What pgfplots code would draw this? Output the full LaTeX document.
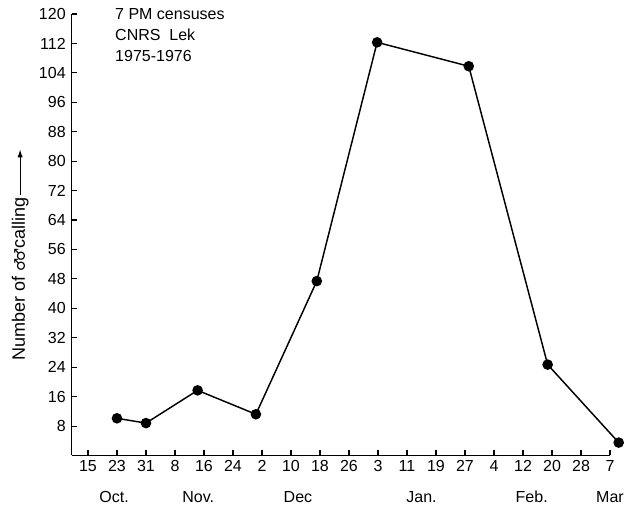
\documentclass[border=0pt]{standalone}
\usepackage{fontspec}
\setmainfont{Liberation Sans}
\newfontfamily\symfont{DejaVu Sans}
\usepackage{pgfplots}
\pgfplotsset{compat=1.18}
\usetikzlibrary{arrows.meta}
\begin{document}
\begin{tikzpicture}
\useasboundingbox (-53.8pt,-38.6pt) rectangle (414.2pt,341.6pt);
\begin{axis}[
  at={(0,0)}, anchor=south west,
  scale only axis,
  width=403.7pt, height=331.1pt,
  xmin=-0.56, xmax=18,
  ymin=0, ymax=120,
  axis lines=left,
  axis line style={-, line width=0.9pt},
  every tick/.style={black, line width=0.8pt},
  tick align=inside,
  major tick length=4pt,
  xtick={0,...,18},
  xticklabels={15,23,31,8,16,24,2,10,18,26,3,11,19,27,4,12,20,28,7},
  ytick={8,16,...,120},
  tick label style={font=\fontsize{12}{14}\selectfont},
  yticklabel style={xshift=-1pt},
  /pgf/number format/assume math mode=true,
  clip=false,
]
\addplot[black, line width=1.1pt, mark=*, mark size=3.4pt, mark options={fill=black}]
  coordinates {(1,10.1) (2,8.8) (3.78,17.7) (5.79,11.2) (7.89,47.4) (9.97,112.3) (13.13,105.8) (15.85,24.7) (18.3,3.5)};
\node[font=\fontsize{12}{14}\selectfont] at (axis cs:0.9,-11.3) {Oct.};
\node[font=\fontsize{12}{14}\selectfont] at (axis cs:3.8,-11.3) {Nov.};
\node[font=\fontsize{12}{14}\selectfont] at (axis cs:7.24,-11.3) {Dec};
\node[font=\fontsize{12}{14}\selectfont] at (axis cs:11.5,-11.3) {Jan.};
\node[font=\fontsize{12}{14}\selectfont] at (axis cs:15.3,-11.3) {Feb.};
\node[font=\fontsize{12}{14}\selectfont] at (axis cs:18,-11.3) {Mar};
\node[font=\fontsize{12}{14}\selectfont, anchor=base west, inner sep=0pt] at (axis cs:0.93,118.5) {7 PM censuses};
\node[font=\fontsize{12}{14}\selectfont, anchor=base west, inner sep=0pt] at (axis cs:0.93,112.9) {CNRS\ \ Lek};
\node[font=\fontsize{12}{14}\selectfont, anchor=base west, inner sep=0pt] at (axis cs:0.93,107.1) {1975-1976};
\node[font=\fontsize{13.5}{15}\selectfont, rotate=90, inner sep=0pt] (yl) at (axis cs:-2.34,48) {Number of {\symfont\fontsize{11}{12}\selectfont ♂\kern-2pt♂}calling};
\end{axis}
\draw[line width=0.8pt, -{Latex[length=6pt,width=4pt]}] ([yshift=1.5pt]yl.east) -- ++(0pt,34pt);
\end{tikzpicture}
\end{document}
